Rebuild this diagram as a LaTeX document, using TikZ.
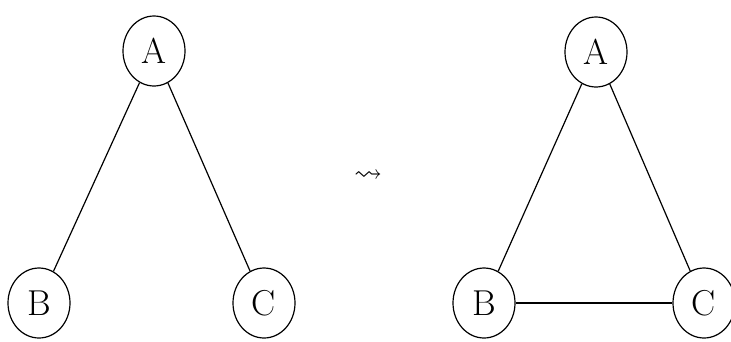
\documentclass[tikz,border=0pt]{standalone}
\usepackage{amsmath,amssymb}
\usetikzlibrary{shapes.geometric}

\begin{document}
\begin{tikzpicture}[x=1pt,y=-1pt,
  vertex/.style={draw,ellipse,line width=1.2pt,minimum width=62pt,minimum height=70pt,inner sep=0pt,font=\fontsize{36}{40}\selectfont},
  edge/.style={line width=1.2pt}]
\useasboundingbox (0,0) rectangle (731,341);
% first graph
\node[vertex] (a1) at (154,51) {A};
\node[vertex] (b1) at (39,303) {B};
\node[vertex] (c1) at (264,303) {C};
\draw[edge] (a1)--(b1);
\draw[edge] (a1)--(c1);
% step
\node[font=\fontsize{28}{30}\selectfont] (leads) at (368,176) {$\rightsquigarrow$};
% second graph
\node[vertex] (a2) at (596,52) {A};
\node[vertex] (b2) at (484,303) {B};
\node[vertex] (c2) at (704,303) {C};
\draw[edge] (a2)--(b2);
\draw[edge] (a2)--(c2);
\draw[edge] (b2)--(c2);
\end{tikzpicture}
\end{document}
